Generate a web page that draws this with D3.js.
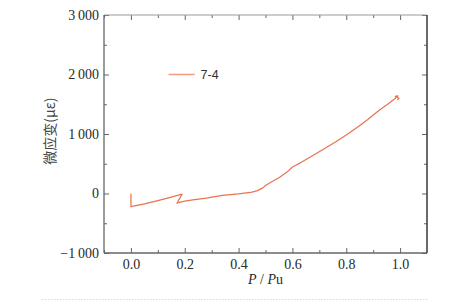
<!DOCTYPE html>
<html>
<head>
<meta charset="utf-8">
<script src="https://cdn.jsdelivr.net/npm/d3@7"></script>
<style>
  body { margin: 0; background: #fff; }
  svg { display: block; }
  .serif { font-family: "Liberation Serif", "Times New Roman", "DejaVu Serif", serif; }
</style>
</head>
<body>
<div id="chart"></div>
<script>
(function () {
  'use strict';

  var w = 476,
      h = 308,
      margin = {top: 15, right: 49, bottom: 55, left: 104};

  // P/Pu and micro strain
  var load = [0.0, 0.0, 0.05, 0.10, 0.15, 0.19, 0.171, 0.18, 0.20, 0.23, 0.28, 0.34, 0.40, 0.45, 0.47,
              0.49, 0.50, 0.52, 0.55, 0.58, 0.60, 0.63, 0.66, 0.69, 0.72, 0.76, 0.80, 0.84, 0.88,
              0.92, 0.96, 0.985, 0.992, 0.982, 0.996, 0.99];
  var strain = [0, -220, -175, -120, -60, -10, -165, -148, -128, -108, -78, -32, -6, 22, 48,
                95, 135, 190, 265, 360, 445, 515, 595, 675, 755, 865, 985, 1110, 1245,
                1390, 1520, 1610, 1640, 1632, 1600, 1570];

  var xTicks = [0.0, 0.2, 0.4, 0.6, 0.8, 1.0],
      xMinor = [-0.1, 0.1, 0.3, 0.5, 0.7, 0.9],
      yTicks = [-1000, 0, 1000, 2000, 3000],
      yMinor = [-500, 500, 1500, 2500];

  var seriesName = '7-4',
      xTitleA = 'P',
      xTitleB = 'Pu',
      yTitle = '微应变(με)';

  var iw = w - margin.left - margin.right,
      ih = h - margin.top - margin.bottom;

  var svg = d3.select('#chart')
    .append('svg')
    .attr('width', w)
    .attr('height', h);

  var g = svg.append('g')
    .attr('transform', 'translate(' + margin.left + ',' + margin.top + ')');

  var x = d3.scaleLinear().domain([-0.1, 1.1]).range([0, iw]);
  var y = d3.scaleLinear().domain([-1000, 3000]).range([ih, 0]);

  var fmtY = function (d) {
    var s = d3.format(',')(Math.abs(d)).replace(/,/g, '\u2009');
    return (d < 0 ? '\u2212' : '') + s;
  };

  var axisColor = '#666';

  function styleAxis(sel) {
    sel.attr('font-family', null).attr('font-size', null);
    sel.select('.domain').remove();
    sel.selectAll('line').attr('stroke', axisColor);
    sel.selectAll('text')
      .attr('class', 'serif')
      .attr('fill', '#2a2a2a')
      .style('font-size', '14px');
  }

  // bottom
  g.append('g').attr('transform', 'translate(0,' + ih + ')')
    .call(d3.axisBottom(x).tickValues(xTicks).tickSizeInner(-5).tickSizeOuter(0)
      .tickPadding(6).tickFormat(d3.format('.1f')))
    .call(styleAxis);
  g.append('g').attr('transform', 'translate(0,' + ih + ')')
    .call(d3.axisBottom(x).tickValues(xMinor).tickSizeInner(-3).tickSizeOuter(0).tickFormat(''))
    .call(styleAxis);
  // top
  g.append('g')
    .call(d3.axisTop(x).tickValues(xTicks).tickSizeInner(-5).tickSizeOuter(0).tickFormat(''))
    .call(styleAxis);
  g.append('g')
    .call(d3.axisTop(x).tickValues(xMinor).tickSizeInner(-3).tickSizeOuter(0).tickFormat(''))
    .call(styleAxis);
  // left
  g.append('g')
    .call(d3.axisLeft(y).tickValues(yTicks).tickSizeInner(-5).tickSizeOuter(0)
      .tickPadding(5).tickFormat(fmtY))
    .call(styleAxis);
  g.append('g')
    .call(d3.axisLeft(y).tickValues(yMinor).tickSizeInner(-3).tickSizeOuter(0).tickFormat(''))
    .call(styleAxis);
  // right
  g.append('g').attr('transform', 'translate(' + iw + ',0)')
    .call(d3.axisRight(y).tickValues(yTicks).tickSizeInner(-5).tickSizeOuter(0).tickFormat(''))
    .call(styleAxis);
  g.append('g').attr('transform', 'translate(' + iw + ',0)')
    .call(d3.axisRight(y).tickValues(yMinor).tickSizeInner(-3).tickSizeOuter(0).tickFormat(''))
    .call(styleAxis);

  // frame: top lighter, left/bottom/right darker
  g.append('line').attr('x1', 0).attr('x2', iw).attr('y1', 0).attr('y2', 0)
    .attr('stroke', '#999').attr('stroke-width', 1.2);
  g.append('line').attr('x1', 0).attr('x2', 0).attr('y1', 0).attr('y2', ih)
    .attr('stroke', axisColor).attr('stroke-width', 1.3);
  g.append('line').attr('x1', 0).attr('x2', iw).attr('y1', ih).attr('y2', ih)
    .attr('stroke', axisColor).attr('stroke-width', 1.3);
  g.append('line').attr('x1', iw).attr('x2', iw).attr('y1', 0).attr('y2', ih)
    .attr('stroke', '#444').attr('stroke-width', 1.6);

  // curve
  var pts = load.map(function (d, i) { return [d, strain[i]]; });
  var line = d3.line()
    .x(function (d) { return x(d[0]); })
    .y(function (d) { return y(d[1]); });

  g.append('path')
    .attr('d', line(pts))
    .attr('fill', 'none')
    .attr('stroke', '#e8734f')
    .attr('stroke-width', 1.2)
    .attr('stroke-linejoin', 'round');

  // legend
  var lg = g.append('g').attr('transform', 'translate(' + x(0.14) + ',' + y(2000) + ')');
  lg.append('line')
    .attr('x1', 0).attr('x2', 26).attr('y1', 0).attr('y2', 0)
    .attr('stroke', '#f09a84').attr('stroke-width', 1.5);
  lg.append('text')
    .attr('x', 32).attr('y', 4.5)
    .attr('fill', '#333')
    .style('font-family', '"Liberation Sans", Arial, sans-serif')
    .style('font-size', '12.5px')
    .text(seriesName);

  // x title
  var xt = svg.append('text')
    .attr('class', 'serif')
    .attr('x', margin.left + x(0.5))
    .attr('y', 284)
    .attr('text-anchor', 'middle')
    .attr('fill', '#2a2a2a')
    .style('font-size', '14px');
  xt.append('tspan').style('font-style', 'italic').text(xTitleA);
  xt.append('tspan').text(' / ');
  xt.append('tspan').style('font-style', 'italic').text(xTitleB.charAt(0));
  xt.append('tspan').text(xTitleB.slice(1));

  // y title
  svg.append('text')
    .attr('transform', 'translate(55,' + (margin.top + y(1050)) + ') rotate(-90)')
    .attr('text-anchor', 'middle')
    .attr('fill', '#444')
    .style('font-family', '"Noto Sans CJK SC", sans-serif')
    .style('font-size', '14px')
    .text(yTitle);

  // dotted rule at bottom
  svg.append('line')
    .attr('x1', 42).attr('x2', margin.left + iw + 1)
    .attr('y1', 299.5).attr('y2', 299.5)
    .attr('stroke', '#c9dcea')
    .attr('stroke-width', 1)
    .attr('stroke-dasharray', '1.5,1.5');
}());
</script>
</body>
</html>
